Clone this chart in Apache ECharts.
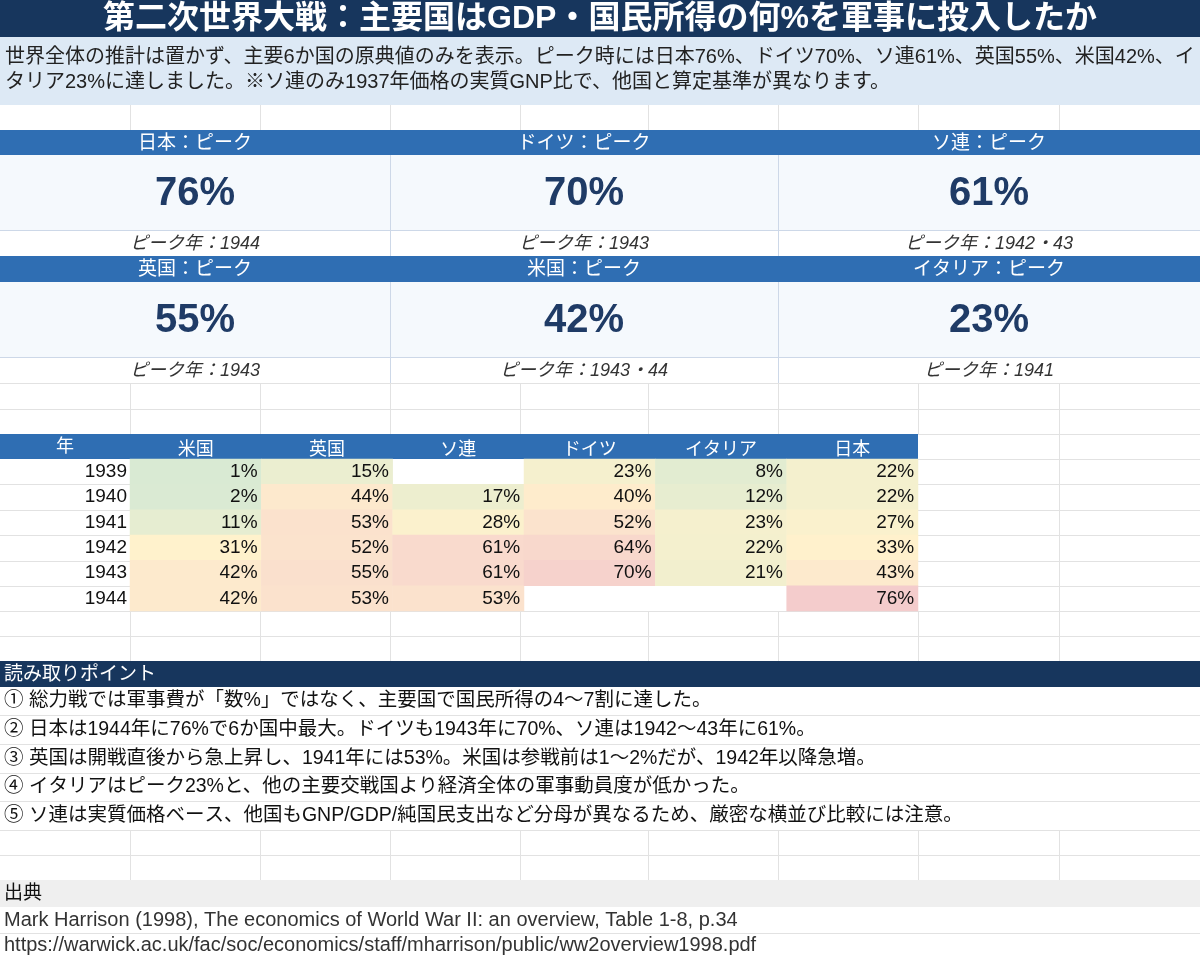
<!DOCTYPE html>
<html>
<head>
<meta charset="utf-8">
<script src="https://cdn.jsdelivr.net/npm/echarts@6/dist/echarts.min.js"></script>
<style>
  html, body { margin: 0; padding: 0; background: #fff; }
  #main { width: 1200px; height: 957px; }
</style>
</head>
<body>
<div id="main"></div>
<script>
// データ（原典値）
const years = ['1939', '1940', '1941', '1942', '1943', '1944']
const countries = ['米国', '英国', 'ソ連', 'ドイツ', 'イタリア', '日本']
const usa = [1, 2, 11, 31, 42, 42]
const uk = [15, 44, 53, 52, 55, 53]
const ussr = [null, 17, 28, 61, 61, 53]
const germany = [23, 40, 52, 64, 70, null]
const italy = [8, 12, 23, 22, 21, null]
const japan = [22, 22, 27, 33, 43, 76]

// ピーク（KPI）
const kpiNames = ['日本', 'ドイツ', 'ソ連', '英国', '米国', 'イタリア']
const kpiPeaks = [76, 70, 61, 55, 42, 23]
const kpiYears = ['1944', '1943', '1942・43', '1943', '1943・44', '1941']

const titleText = '第二次世界大戦：主要国はGDP・国民所得の何%を軍事に投入したか'
const subLines = [
  '世界全体の推計は置かず、主要6か国の原典値のみを表示。ピーク時には日本76%、ドイツ70%、ソ連61%、英国55%、米国42%、イ',
  'タリア23%に達しました。※ソ連のみ1937年価格の実質GNP比で、他国と算定基準が異なります。'
]
const points = [
  '① 総力戦では軍事費が「数%」ではなく、主要国で国民所得の4〜7割に達した。',
  '② 日本は1944年に76%で6か国中最大。ドイツも1943年に70%、ソ連は1942〜43年に61%。',
  '③ 英国は開戦直後から急上昇し、1941年には53%。米国は参戦前は1〜2%だが、1942年以降急増。',
  '④ イタリアはピーク23%と、他の主要交戦国より経済全体の軍事動員度が低かった。',
  '⑤ ソ連は実質価格ベース、他国もGNP/GDP/純国民支出など分母が異なるため、厳密な横並び比較には注意。'
]
const sourceLines = [
  'Mark Harrison (1998), The economics of World War II: an overview, Table 1-8, p.34',
  'https://warwick.ac.uk/fac/soc/economics/staff/mharrison/public/ww2overview1998.pdf'
]

const FONT = '"Liberation Sans", "Noto Sans CJK JP", sans-serif'
const NAVY = '#17365d'
const BLUE = '#2f6eb3'
const GRID = '#e2e2e2'
const colX = [130, 260, 390, 520, 648, 778, 918, 1059]

// カラースケール（緑→黄→橙→赤）
const scaleMin = 1
const scaleMax = 76
const colorStops = [[1, [217, 234, 211]], [31, [255, 242, 204]], [50, [252, 229, 205]], [76, [244, 204, 204]]]
function scaleColor(v) {
  for (let i = 1; i < colorStops.length; i++) {
    const a = colorStops[i - 1], b = colorStops[i]
    if (v <= b[0]) {
      const t = (v - a[0]) / (b[0] - a[0])
      const c = a[1].map((x, k) => Math.round(x + (b[1][k] - x) * t))
      return 'rgb(' + c.join(',') + ')'
    }
  }
  return 'rgb(' + colorStops[colorStops.length - 1][1].join(',') + ')'
}
const scaleColors = []
for (let v = scaleMin; v <= scaleMax; v++) scaleColors.push(scaleColor(v))

const seriesValues = [usa, uk, ussr, germany, italy, japan]
const heatData = []
seriesValues.forEach((arr, i) => {
  arr.forEach((v, j) => {
    if (v !== null) heatData.push([i, j, v])
  })
})

function txt(text, x, y, opt) {
  opt = opt || {}
  return {
    type: 'text',
    z: 100,
    style: {
      text: text, x: x, y: y,
      fill: opt.fill || '#222',
      fontSize: opt.size || 18,
      fontWeight: opt.weight || 'normal',
      fontStyle: opt.style || 'normal',
      fontFamily: FONT,
      align: opt.align || 'left', textAlign: opt.align || 'left',
      verticalAlign: 'middle', textVerticalAlign: 'middle'
    }
  }
}
function rect(x, y, w, h, fill) {
  return { type: 'rect', z: -1, shape: { x: x, y: y, width: w, height: h }, style: { fill: fill } }
}
function line(x1, y1, x2, y2, color) {
  return { type: 'line', z: 0, shape: { x1: x1, y1: y1, x2: x2, y2: y2 }, style: { stroke: color || GRID, lineWidth: 1 } }
}

const g = []
// スプレッドシートの罫線（空白行）
function emptyBand(y0, y1, rows) {
  colX.forEach(x => g.push(line(x + 0.5, y0, x + 0.5, y1)))
  rows.forEach(y => g.push(line(0, y + 0.5, 1200, y + 0.5)))
}
emptyBand(105, 130, [])
emptyBand(383, 434, [383, 409])
emptyBand(611, 661, [611, 636])
emptyBand(830, 880, [830, 855])
// 表の右側と年列
const rowY = [434, 459, 484, 510, 535, 561, 586, 611]
rowY.forEach(y => g.push(line(918, y + 0.5, 1200, y + 0.5)))
rowY.slice(2, 7).forEach(y => g.push(line(0, y + 0.5, 130, y + 0.5)))
g.push(line(1059.5, 434, 1059.5, 611))
// 読み取りポイントの行線
;[715, 744, 773, 801].forEach(y => g.push(line(0, y + 0.5, 1200, y + 0.5)))
g.push(line(0, 933.5, 1200, 933.5))

// タイトル
g.push(rect(0, 0, 1200, 37, NAVY))
g.push(txt(titleText, 600, 19, { fill: '#fff', size: 32, weight: 'bold', align: 'center' }))
g.push(rect(0, 37, 1200, 68, '#dde9f5'))
g.push(txt(subLines[0], 5, 57, { size: 20, fill: '#222' }))
g.push(txt(subLines[1], 5, 82, { size: 20, fill: '#222' }))

// KPI ブロック
const blocks = [[0, 390], [390, 778], [778, 1200]]
const blockRows = [[130, 155, 230, 256], [256, 282, 357, 383]]
kpiNames.forEach((name, k) => {
  const b = blocks[k % 3]
  const r = blockRows[Math.floor(k / 3)]
  const cx = (b[0] + b[1]) / 2
  g.push(rect(b[0], r[0], b[1] - b[0], r[1] - r[0], BLUE))
  g.push(rect(b[0], r[1], b[1] - b[0], r[2] - r[1], '#f5f9fd'))
  g.push(txt(name + '：ピーク', cx, (r[0] + r[1]) / 2 + 1, { fill: '#fff', size: 19, align: 'center' }))
  g.push(txt(kpiPeaks[k] + '%', cx, (r[1] + r[2]) / 2 + 1, { fill: '#1f3b66', size: 40, weight: 'bold', align: 'center' }))
  g.push(txt('ピーク年：' + kpiYears[k], cx, (r[2] + r[3]) / 2 + 1, { fill: '#333', size: 18, style: 'italic', align: 'center' }))
  if (b[0] > 0) g.push(line(b[0] + 0.5, r[1], b[0] + 0.5, r[3], '#cdd8e8'))
})
blockRows.forEach(r => g.push(line(0, r[2] + 0.5, 1200, r[2] + 0.5, '#cdd8e8')))

// 表ヘッダー
g.push(rect(0, 434, 918, 25, BLUE))
g.push(txt('年', 65, 447, { fill: '#fff', size: 18, align: 'center' }))

// 読み取りポイント
g.push(rect(0, 661, 1200, 26, NAVY))
g.push(txt('読み取りポイント', 4, 675, { fill: '#fff', size: 19 }))
const pointY = [701, 730, 759, 787, 816]
points.forEach((p, i) => g.push(txt(p, 4, pointY[i], { size: 19.5, fill: '#111' })))

// 出典
g.push(rect(0, 880, 1200, 27, '#efefef'))
g.push(txt('出典', 4, 894, { size: 19, fill: '#111' }))
g.push(txt(sourceLines[0], 4, 920, { size: 20, fill: '#333' }))
g.push(txt(sourceLines[1], 4, 945, { size: 20, fill: '#333' }))

const myChart = echarts.init(document.getElementById('main'))
const option = {
  backgroundColor: '#fff',
  animation: false,
  grid: { left: 130, top: 459, width: 788, height: 152 },
  xAxis: {
    type: 'category',
    data: countries,
    position: 'top',
    axisLine: { show: false },
    axisTick: { show: false },
    splitLine: { show: false },
    axisLabel: { color: '#fff', fontSize: 18, fontFamily: FONT, margin: 0 },
    z: 50
  },
  yAxis: {
    type: 'category',
    data: years,
    inverse: true,
    axisLine: { show: false },
    axisTick: { show: false },
    splitLine: { show: false },
    axisLabel: { color: '#111', fontSize: 19, fontFamily: FONT, margin: 3 }
  },
  visualMap: {
    show: false,
    min: scaleMin,
    max: scaleMax,
    dimension: 2,
    inRange: { color: scaleColors }
  },
  graphic: { elements: g },
  series: [
    {
      type: 'heatmap',
      data: heatData,
      label: {
        show: true,
        position: 'insideRight',
        distance: 4,
        color: '#111',
        fontSize: 19,
        fontFamily: FONT,
        formatter: p => p.value[2] + '%'
      },
      emphasis: { disabled: true }
    }
  ]
}
myChart.setOption(option)
</script>
</body>
</html>
